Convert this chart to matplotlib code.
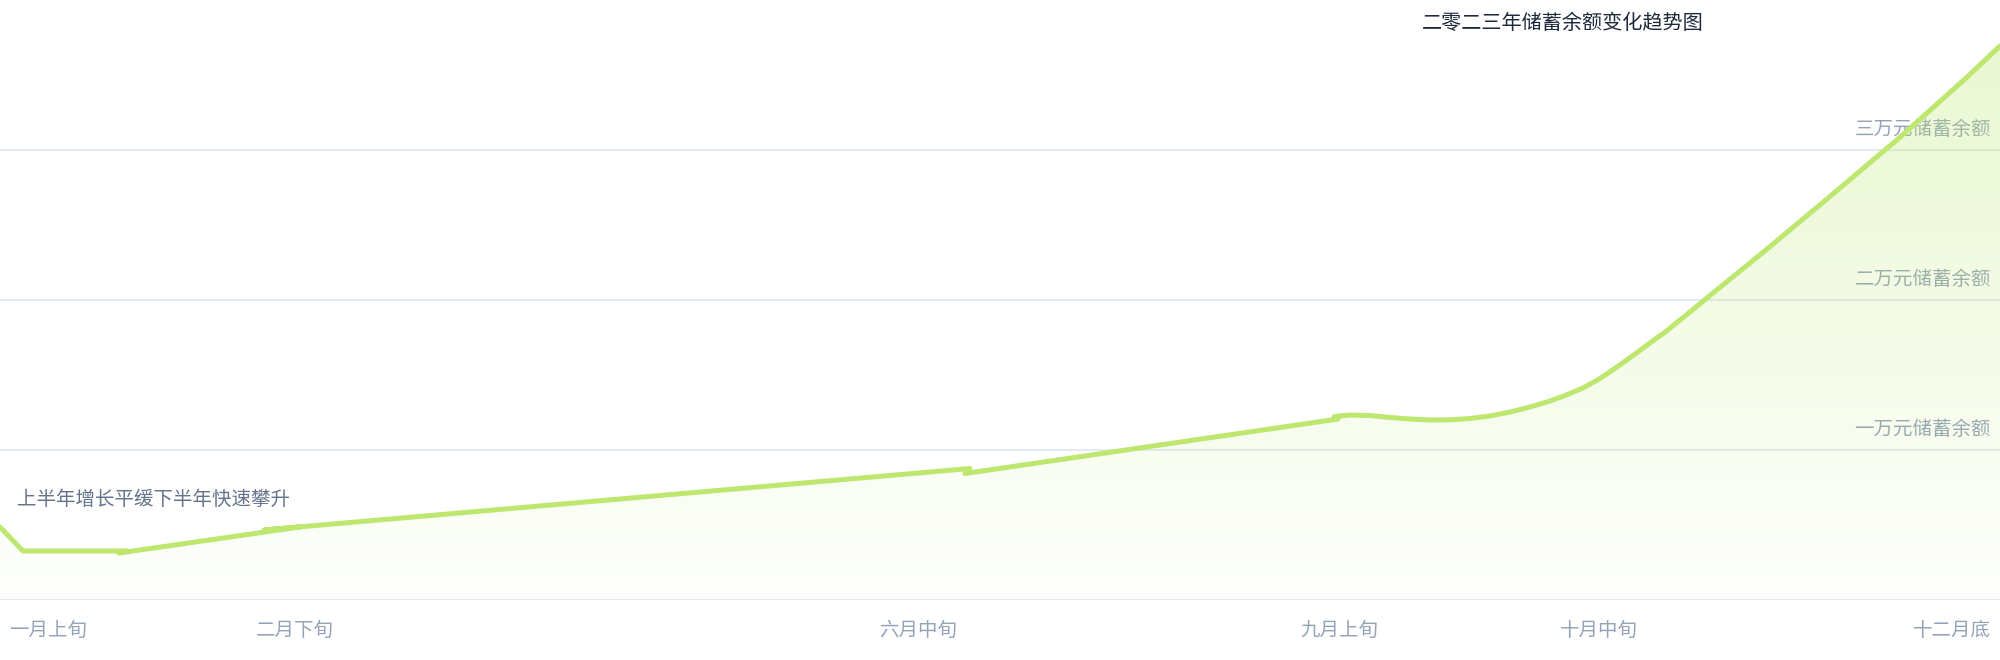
import numpy as np
import matplotlib
matplotlib.use("Agg")
import matplotlib.pyplot as plt
from matplotlib.transforms import offset_copy, blended_transform_factory

# --- data (day of year, savings balance in yuan) ---
days = [0, 4.2, 23.2, 21.7, 54.75, 48.2, 177.0, 176.1, 244.2, 243.5,
        246.4, 250.0, 253.7, 257.3, 261.0, 264.6, 268.3, 271.9, 275.6,
        279.2, 282.9, 285.6, 288.9, 292.0, 295.1, 298.4, 301.1, 303.9,
        306.6, 309.3, 312.4, 322.5, 334.5, 346.8, 359.0, 365.0]
balance = [4867, 3267, 3267, 3133, 4867, 4667, 8767, 8433, 12067, 12233,
           12333, 12300, 12167, 12067, 12000, 12013, 12100, 12267, 12533,
           12867, 13267, 13633, 14133, 14767, 15533, 16400, 17133, 17867,
           18667, 19467, 20400, 23400, 27067, 30867, 34867, 36933]

grid_values = [0, 10000, 20000, 30000]
grid_labels = ["", "一万元储蓄余额", "二万元储蓄余额", "三万元储蓄余额"]

tick_days = [0, 53.8, 167.5, 244.4, 291.8, 365]
tick_labels = ["一月上旬", "二月下旬", "六月中旬", "九月上旬", "十月中旬", "十二月底"]

title = "二零二三年储蓄余额变化趋势图"
note = "上半年增长平缓下半年快速攀升"

line_color = "#bde76e"
grid_color = "#e2e8f0"
label_color = "#94a3b8"

plt.rcParams["font.family"] = ["Noto Sans CJK SC", "DejaVu Sans"]

fig = plt.figure(figsize=(20, 6.6), dpi=100)
ax = fig.add_axes([0, 60 / 660, 1, 600 / 660])
ax.set_xlim(0, 365)
ax.set_ylim(0, 40000)
ax.axis("off")

# gridlines + value labels (drawn under the fill)
ylab_tr = blended_transform_factory(ax.transAxes, ax.transData)
for v, lab in zip(grid_values, grid_labels):
    ax.axhline(v, color=grid_color, lw=1.3, zorder=1)
    if lab:
        ax.text(0.9955, v, lab, transform=offset_copy(ylab_tr, fig=fig, y=15, units="dots"),
                ha="right", va="baseline", fontsize=14, color=label_color, zorder=2)

# gradient area fill clipped to the series
fill = ax.fill_between(days, balance, 0, color="none", lw=0)
rgb = np.array(matplotlib.colors.to_rgb(line_color))
grad = np.zeros((200, 2, 4))
grad[:, :, :3] = rgb
grad[:, :, 3] = np.linspace(0.02, 0.34, 200)[:, None]
img = ax.imshow(grad, extent=[0, 365, 0, 40000], origin="lower", aspect="auto", zorder=3)
img.set_clip_path(fill.get_paths()[0], transform=ax.transData)

ax.plot(days, balance, color=line_color, lw=3.6, zorder=4,
        solid_joinstyle="round", solid_capstyle="round")

# x labels
xlab_tr = blended_transform_factory(ax.transData, ax.transAxes)
for i, (d, lab) in enumerate(zip(tick_days, tick_labels)):
    ha, dx = "center", 0
    if i == 0:
        ha, dx = "left", 9
    elif i == len(tick_days) - 1:
        ha, dx = "right", -9
    ax.text(d, 0, lab, transform=offset_copy(xlab_tr, fig=fig, x=dx, y=-36, units="dots"),
            ha=ha, va="baseline", fontsize=14, color=label_color, clip_on=False)

ax.text(17 / 2000, 0.159, note, transform=ax.transAxes, ha="left", va="baseline",
        fontsize=14, color="#64748b", zorder=2)

fig.text(1422 / 2000, 1 - 29 / 660, title, ha="left", va="baseline", fontsize=14.5,
         color="#1e293b")

fig.savefig("out.png", dpi=100, facecolor="white")
